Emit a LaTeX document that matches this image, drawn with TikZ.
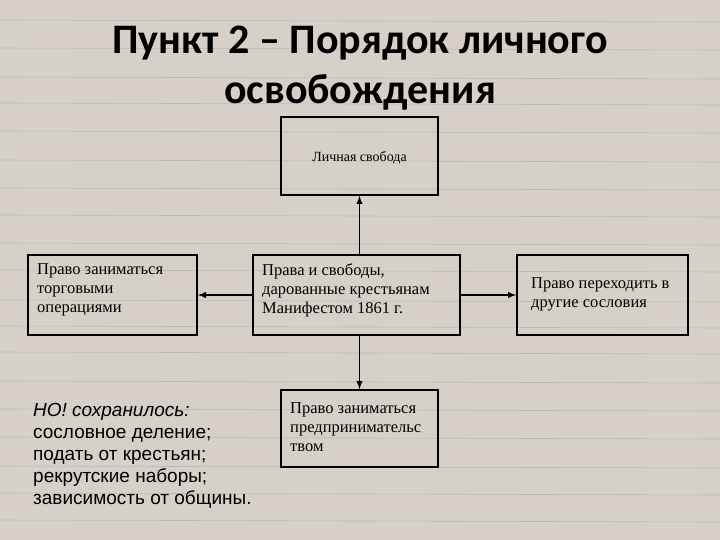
\documentclass[tikz,border=0pt]{standalone}
\usepackage{fontspec}
\setmainfont{Liberation Serif}
\newfontfamily\titlefont{Carlito}
\newfontfamily\sansfont{Liberation Sans}
\begin{document}
\begin{tikzpicture}[x=1pt,y=-1pt,
  box/.style={draw=black,line width=1.6pt,fill=none},
  btxt/.style={anchor=north west,align=left,font=\fontsize{16.5}{19}\selectfont,inner sep=0pt},
  arr/.style={line width=1.8pt,-latex}]
\fill[gray!30!white!90!brown] (0,0) rectangle (720,540);
\useasboundingbox (0,0) rectangle (720,540);
\foreach \yy in {20,48,77,103,131,160,188,215,243,270,300,326,352,381,409,437,466,493,520}
  \draw[gray!55,line width=0.6pt] (0,\yy) -- (720,\yy+2);
\node[align=center,font=\titlefont\bfseries\fontsize{42}{50}\selectfont] (title) at (360,68) {Пункт 2 – Порядок личного\\освобождения};
\node[box,minimum width=157,minimum height=78] (top) at (359.5,156) {};
\node[font=\fontsize{14}{15}\selectfont] (toptxt) at (359.5,158) {Личная свобода};
\node[box,minimum width=169,minimum height=80] (left) at (112.5,295) {};
\node[btxt] (lt) at (37,263) {Право заниматься\\торговыми\\операциями};
\node[box,minimum width=207,minimum height=80] (mid) at (356.5,295) {};
\node[btxt] (mt) at (262,263) {Права и свободы,\\дарованные крестьянам\\Манифестом 1861 г.};
\node[box,minimum width=171,minimum height=80] (right) at (602.5,295) {};
\node[btxt] (rt) at (531,277) {Право переходить в\\другие сословия};
\node[box,minimum width=157,minimum height=77] (bot) at (359.5,428.5) {};
\node[btxt] (bt) at (290,402) {Право заниматься\\предпринимательс\\твом};
\node[anchor=north west,align=left,inner sep=0pt,font=\sansfont\fontsize{19}{22}\selectfont] (note) at (33,403)
 {\textit{НО! сохранилось:}\\сословное деление;\\подать от крестьян;\\рекрутские наборы;\\зависимость от общины.};
\draw[arr] (top.south |- mid.north) -- (top.south);
\draw[arr] (mid.west) -- (left.east);
\draw[arr] (mid.east) -- (right.west);
\draw[arr] (bot.north |- mid.south) -- (bot.north);
\end{tikzpicture}
\end{document}
